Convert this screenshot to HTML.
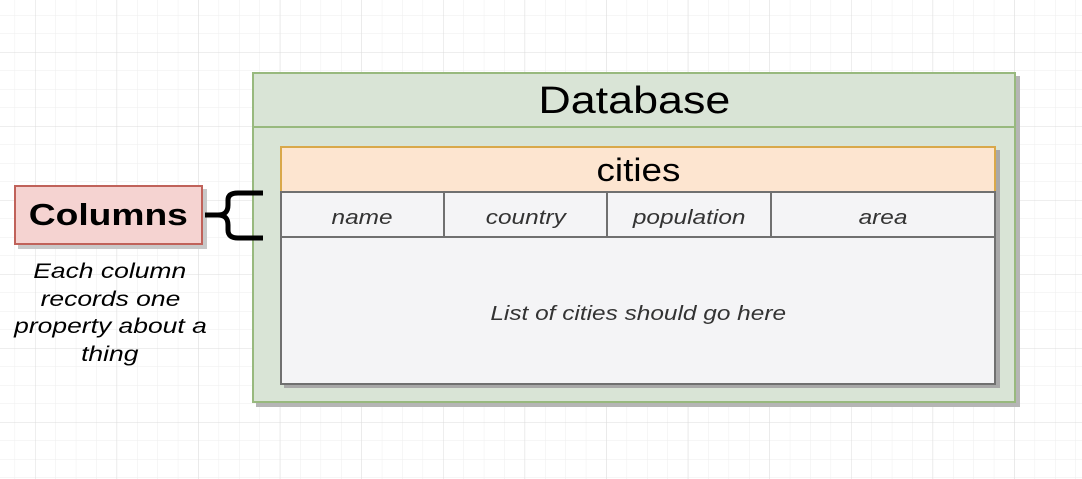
<!DOCTYPE html>
<html><head><style>
body{margin:0;width:1082px;height:479px;overflow:hidden;background:#fff;font-family:"Liberation Sans",sans-serif;position:relative}
.a{position:absolute;box-sizing:border-box}
.c{display:flex;align-items:center;justify-content:center}
.s{display:inline-block;transform:scaleX(1.22)}
.t{display:inline-block;transform:scaleX(1.26)}
</style></head><body>
<svg class="a" style="left:0;top:0" width="1082" height="479">
<defs>
<pattern id="g" x="35" y="52" width="20.4" height="18.5" patternUnits="userSpaceOnUse"><path d="M0 0V18.5M0 0H20.4" stroke="#eeeeee" stroke-width="1" fill="none"/></pattern>
<pattern id="G" x="35" y="52" width="81.6" height="74" patternUnits="userSpaceOnUse"><path d="M0 0V74M0 0H81.6" stroke="#dcdcdc" stroke-width="1" fill="none"/></pattern>
</defs>
<rect width="1082" height="479" fill="url(#g)"/>
<rect width="1082" height="479" fill="url(#G)"/>
</svg>
<!-- database -->
<div class="a" style="left:256px;top:76px;width:764px;height:331px;background:#b5b5b5"></div>
<div class="a" style="left:252px;top:72px;width:764px;height:331px;background:#d9e4d6;border:2px solid #98b97e"></div>
<div class="a c" style="left:252px;top:72px;width:764px;height:56px;padding-top:4px;border-bottom:2px solid #98b97e;font-size:38px;color:#000"><span class="s" style="transform:scaleX(1.18)">Database</span></div>
<!-- cities -->
<div class="a" style="left:284px;top:150px;width:716px;height:238px;background:#a8a8a8"></div>
<div class="a c" style="left:280px;top:146px;width:716px;height:46px;background:#fde5d0;border:2px solid #d9a84a;border-bottom:none;font-size:32px;color:#000"><span class="s" style="transform:scaleX(1.15)">cities</span></div>
<div class="a" style="left:280px;top:191px;width:716px;height:194px;background:#f4f4f6;border:2px solid #707070"></div>
<div class="a" style="left:280px;top:236px;width:716px;height:2px;background:#707070"></div>
<div class="a" style="left:443px;top:191px;width:2px;height:46px;background:#707070"></div>
<div class="a" style="left:606px;top:191px;width:2px;height:46px;background:#707070"></div>
<div class="a" style="left:770px;top:191px;width:2px;height:46px;background:#707070"></div>
<div class="a c" style="left:280px;top:196px;width:164px;height:44px;font-size:20px;font-style:italic;color:#333"><span class="s">name</span></div>
<div class="a c" style="left:444px;top:196px;width:163px;height:44px;font-size:20px;font-style:italic;color:#333"><span class="s">country</span></div>
<div class="a c" style="left:607px;top:196px;width:164px;height:44px;font-size:20px;font-style:italic;color:#333"><span class="s">population</span></div>
<div class="a c" style="left:771px;top:196px;width:225px;height:44px;font-size:20px;font-style:italic;color:#333"><span class="s">area</span></div>
<div class="a c" style="left:280px;top:241px;width:716px;height:147px;font-size:20px;font-style:italic;color:#333"><span class="s">List of cities should go here</span></div>
<!-- columns -->
<div class="a" style="left:18px;top:189px;width:189px;height:60px;background:#c8c8c8"></div>
<div class="a c" style="left:14px;top:185px;width:189px;height:60px;background:#f5d3d1;border:2px solid #c0625a;font-size:31px;font-weight:bold;color:#000"><span class="s" style="transform:scaleX(1.2)">Columns</span></div>
<svg class="a" style="left:200px;top:188px" width="70" height="58">
<path d="M5 27 H18 Q28 27 28 17 V12 Q28 5 38 5 H63 M18 27 Q28 27 28 37 V42 Q28 50 38 50 H63" stroke="#000" stroke-width="5" fill="none"/>
</svg>
<div class="a" style="left:0;top:258px;width:220px;text-align:center;font-size:21px;font-style:italic;line-height:27.5px;color:#000"><span class="t">Each column</span><br><span class="t">records one</span><br><span class="t">property about a</span><br><span class="t">thing</span></div>
</body></html>
